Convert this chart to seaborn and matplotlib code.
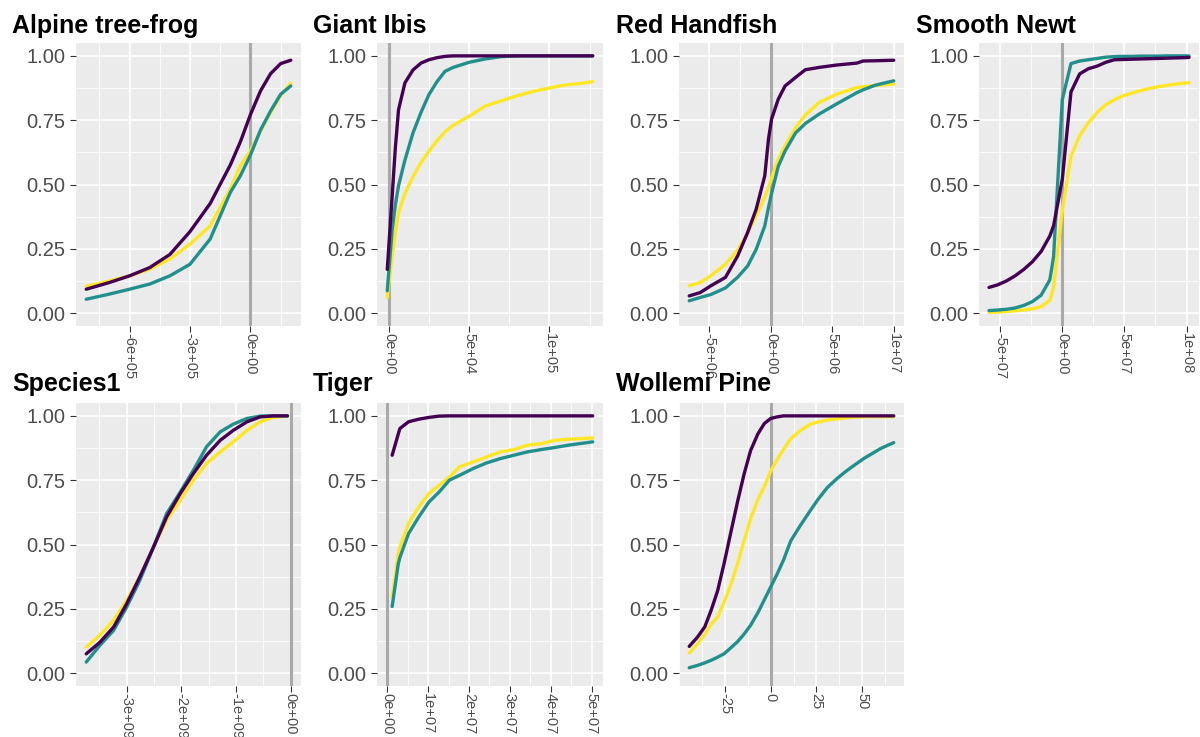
import numpy as np
import pandas as pd
import seaborn as sns
import matplotlib.pyplot as plt
from matplotlib.ticker import AutoMinorLocator, FixedLocator

# ---- data ----
# a = purple, b = teal, c = yellow ; x values are in units of the scale

# Alpine tree-frog (x * 1e5)
frog_x = [-8.15, -7, -6, -5, -4, -3, -2, -1, -0.5, 0, 0.5, 1, 1.5, 2]
frog_a = [0.093, 0.119, 0.145, 0.177, 0.228, 0.317, 0.426, 0.576, 0.666, 0.772, 0.864, 0.931, 0.970, 0.983]
frog_b = [0.054, 0.074, 0.093, 0.113, 0.145, 0.190, 0.288, 0.469, 0.534, 0.615, 0.712, 0.786, 0.851, 0.883]
frog_c = [0.104, 0.125, 0.145, 0.171, 0.210, 0.268, 0.339, 0.482, 0.573, 0.631, 0.708, 0.780, 0.845, 0.894]

# Giant Ibis (x * 1e4)
ibis_x = [-0.1, 0.2, 0.4, 0.6, 1.0, 1.5, 2, 2.5, 3, 3.5, 4, 5, 6, 7, 8, 9, 10, 11, 12, 12.7]
ibis_a = [0.17, 0.45, 0.64, 0.79, 0.895, 0.945, 0.972, 0.985, 0.993, 0.998, 1.0, 1.0, 1.0, 1.0, 1.0, 1.0, 1.0, 1.0, 1.0, 1.0]
ibis_b = [0.087, 0.32, 0.42, 0.495, 0.595, 0.70, 0.78, 0.85, 0.90, 0.94, 0.955, 0.975, 0.988, 0.997, 1.0, 1.0, 1.0, 1.0, 1.0, 1.0]
ibis_c = [0.06, 0.22, 0.31, 0.39, 0.465, 0.53, 0.585, 0.63, 0.67, 0.705, 0.73, 0.765, 0.805, 0.825, 0.845, 0.862, 0.875, 0.887, 0.893, 0.90]

# Red Handfish (x * 1e6)
fish_x = [-6.65, -5.75, -4.9, -3.7, -2.7, -1.9, -1.2, -0.5, -0.2, 0.05, 0.6, 1.15, 2.0, 2.8, 3.9, 5.3, 7.0, 7.5, 8.5, 10.0]
fish_a = [0.067, 0.08, 0.106, 0.139, 0.223, 0.313, 0.404, 0.534, 0.676, 0.754, 0.832, 0.883, 0.916, 0.946, 0.955, 0.964, 0.972, 0.98, 0.981, 0.983]
fish_b = [0.048, 0.061, 0.072, 0.098, 0.14, 0.183, 0.248, 0.339, 0.41, 0.465, 0.571, 0.63, 0.70, 0.737, 0.773, 0.812, 0.857, 0.868, 0.886, 0.903]
fish_c = [0.106, 0.119, 0.145, 0.19, 0.245, 0.31, 0.38, 0.45, 0.49, 0.525, 0.598, 0.65, 0.72, 0.77, 0.818, 0.85, 0.877, 0.88, 0.885, 0.89]

# Smooth Newt (x * 1e7)
newt_x = [-5.9, -5.2, -4.5, -3.8, -3.1, -2.4, -1.7, -1.0, -0.7, 0.0, 0.7, 1.4, 2.1, 2.8, 3.5, 4.2,
          4.9, 5.6, 6.3, 7.0, 7.7, 8.4, 9.1, 9.8, 10.2]
newt_a = [0.10, 0.11, 0.125, 0.145, 0.17, 0.20, 0.24, 0.30, 0.34, 0.52, 0.86, 0.93, 0.95, 0.96, 0.975,
          0.985, 0.986, 0.987, 0.988, 0.989, 0.99, 0.991, 0.992, 0.993, 0.994]
newt_b = [0.01, 0.012, 0.015, 0.02, 0.03, 0.045, 0.07, 0.13, 0.22, 0.83, 0.97, 0.98, 0.985, 0.99, 0.995,
          0.997, 0.998, 0.998, 0.999, 0.999, 0.999, 1.0, 1.0, 1.0, 1.0]
newt_c = [0.003, 0.004, 0.006, 0.009, 0.012, 0.017, 0.025, 0.05, 0.10, 0.40, 0.61, 0.69, 0.74, 0.78, 0.81,
          0.83, 0.845, 0.855, 0.865, 0.873, 0.88, 0.885, 0.89, 0.894, 0.896]

# Species1 (x * 1e9)
sp_x = [-3.74, -3.49, -3.24, -3.0, -2.76, -2.51, -2.27, -2.02, -1.78, -1.54, -1.29, -1.05, -0.8, -0.56, -0.32, -0.06]
sp_a = [0.075, 0.12, 0.179, 0.27, 0.374, 0.49, 0.607, 0.698, 0.776, 0.847, 0.905, 0.944, 0.977, 0.996, 1.0, 1.0]
sp_b = [0.043, 0.108, 0.166, 0.257, 0.361, 0.49, 0.62, 0.704, 0.789, 0.88, 0.938, 0.968, 0.99, 0.999, 1.0, 1.0]
sp_c = [0.101, 0.147, 0.205, 0.283, 0.374, 0.49, 0.594, 0.672, 0.75, 0.815, 0.86, 0.899, 0.944, 0.977, 0.994, 0.999]

# Tiger (x * 1e7)
tiger_x = [0.12, 0.27, 0.31, 0.52, 0.77, 1.02, 1.27, 1.52, 1.77, 2.1, 2.43, 2.77, 3.1, 3.43, 3.77, 4.1, 4.43, 5.03]
tiger_a = [0.847, 0.93, 0.951, 0.977, 0.987, 0.994, 0.999, 1.0, 1.0, 1.0, 1.0, 1.0, 1.0, 1.0, 1.0, 1.0, 1.0, 1.0]
tiger_b = [0.259, 0.425, 0.45, 0.542, 0.607, 0.665, 0.704, 0.75, 0.769, 0.795, 0.817, 0.834, 0.847, 0.86, 0.869, 0.877, 0.886, 0.899]
tiger_c = [0.296, 0.464, 0.49, 0.581, 0.646, 0.698, 0.73, 0.762, 0.802, 0.821, 0.84, 0.86, 0.869, 0.886, 0.892, 0.905, 0.909, 0.914]

# Wollemi Pine (x * 1)
pine_x = [-44.5, -40, -36, -32.5, -29, -25.5, -22, -18, -14.5, -11, -7, -3.5, 0, 3.5, 7, 11, 16, 22, 26, 31,
          36, 41, 45, 51, 56, 60, 64, 67.2]
pine_a = [0.104, 0.14, 0.18, 0.245, 0.32, 0.425, 0.54, 0.67, 0.775, 0.865, 0.93, 0.97, 0.99, 0.996, 1.0, 1.0,
          1.0, 1.0, 1.0, 1.0, 1.0, 1.0, 1.0, 1.0, 1.0, 1.0, 1.0, 1.0]
pine_b = [0.021, 0.03, 0.04, 0.05, 0.062, 0.075, 0.097, 0.123, 0.152, 0.186, 0.235, 0.285, 0.335, 0.385, 0.44,
          0.515, 0.572, 0.636, 0.677, 0.722, 0.755, 0.784, 0.805, 0.835, 0.856, 0.873, 0.886, 0.896]
pine_c = [0.078, 0.113, 0.15, 0.19, 0.218, 0.275, 0.34, 0.427, 0.516, 0.60, 0.675, 0.725, 0.785, 0.83, 0.87,
          0.911, 0.942, 0.969, 0.976, 0.984, 0.988, 0.992, 0.995, 0.996, 0.997, 0.997, 0.997, 0.997]

titles = ["Alpine tree-frog", "Giant Ibis", "Red Handfish", "Smooth Newt", "Species1", "Tiger", "Wollemi Pine"]
scales = [1e5, 1e4, 1e6, 1e7, 1e9, 1e7, 1]
xticks = [[-6e5, -3e5, 0], [0, 5e4, 1e5], [-5e6, 0, 5e6, 1e7], [-5e7, 0, 5e7, 1e8],
          [-3e9, -2e9, -1e9, 0], [0, 1e7, 2e7, 3e7, 4e7, 5e7], [-25, 0, 25, 50]]
yticks = [0, 0.25, 0.5, 0.75, 1.0]

series = [(frog_x, frog_a, frog_b, frog_c), (ibis_x, ibis_a, ibis_b, ibis_c),
          (fish_x, fish_a, fish_b, fish_c), (newt_x, newt_a, newt_b, newt_c),
          (sp_x, sp_a, sp_b, sp_c), (tiger_x, tiger_a, tiger_b, tiger_c),
          (pine_x, pine_a, pine_b, pine_c)]

pal = {"A": "#440154", "B": "#21908C", "C": "#FDE725"}

sns.set_theme(style="darkgrid")
plt.rcParams["font.family"] = ["Liberation Sans", "DejaVu Sans"]
plt.rcParams["axes.facecolor"] = "#EBEBEB"
plt.rcParams["axes.edgecolor"] = "#EBEBEB"
plt.rcParams["grid.color"] = "white"

W, H = 1200, 737
fig = plt.figure(figsize=(12, 7.37), dpi=100)
fig.patch.set_facecolor("white")

lefts = [76, 377, 679, 979]
rights = [301, 603, 904, 1199]
tops = [43, 403]
bottoms = [326, 686]
title_x = [12, 313, 616, 916]
title_y = [33, 391]

for i, (xs, a, b, c) in enumerate(series):
    r, k = divmod(i, 4)
    ax = fig.add_axes([lefts[k] / W, 1 - bottoms[r] / H,
                       (rights[k] - lefts[k]) / W, (bottoms[r] - tops[r]) / H])
    x = np.array(xs) * scales[i]
    df = pd.DataFrame({
        "x": np.concatenate([x, x, x]),
        "y": a + b + c,
        "series": ["A"] * len(x) + ["B"] * len(x) + ["C"] * len(x),
    })
    ax.axvline(0, color="#A9A9A9", lw=2.2, zorder=1.5)
    sns.lineplot(data=df, x="x", y="y", hue="series", hue_order=["C", "B", "A"],
                 palette=pal, linewidth=2.4, estimator=None, errorbar=None,
                 legend=False, ax=ax, zorder=3)

    lo, hi = min(x.min(), 0), max(x.max(), 0)
    pad = 0.05 * (hi - lo)
    ax.set_xlim(lo - pad, hi + pad)
    ax.set_ylim(-0.05, 1.05)

    ax.xaxis.set_major_locator(FixedLocator(xticks[i]))
    ax.yaxis.set_major_locator(FixedLocator(yticks))
    ax.xaxis.set_minor_locator(AutoMinorLocator(2))
    ax.yaxis.set_minor_locator(AutoMinorLocator(2))
    if scales[i] == 1:
        xlabels = [f"{v:g}" for v in xticks[i]]
    else:
        xlabels = [f"{v:.0e}" for v in xticks[i]]
    ax.set_xticklabels(xlabels, rotation=-90, ha="center", va="top", fontsize=10.5)
    ax.set_yticklabels([f"{v:.2f}" for v in yticks], fontsize=14.5)

    ax.grid(which="major", color="white", lw=1.2)
    ax.grid(which="minor", color="white", lw=0.6)
    ax.set_axisbelow(True)
    ax.tick_params(which="major", length=4.3, width=0.8, color="#333333",
                   labelcolor="#4D4D4D", bottom=True, left=True)
    ax.tick_params(axis="y", pad=3.5)
    ax.tick_params(axis="x", pad=0.8)
    ax.tick_params(which="minor", length=0)
    ax.set_xlabel("")
    ax.set_ylabel("")
    for s in ax.spines.values():
        s.set_visible(False)

    fig.text(title_x[k] / W, 1 - title_y[r] / H, titles[i], fontsize=18,
             fontweight="bold", color="black", ha="left", va="baseline")

plt.savefig("out.png", dpi=100)
